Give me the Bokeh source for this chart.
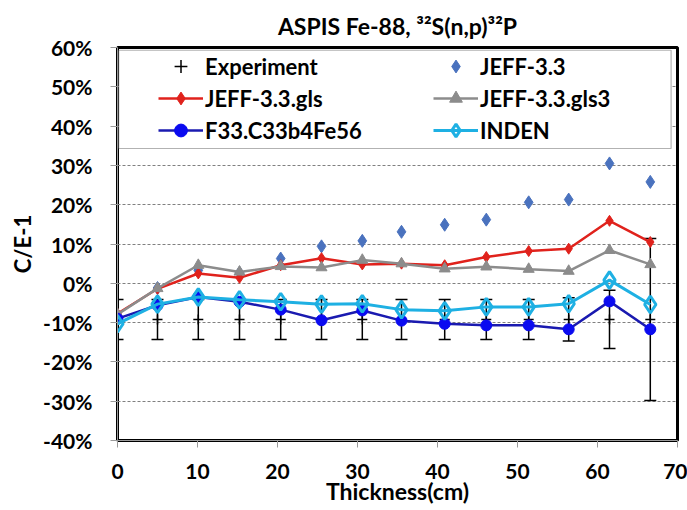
from bokeh.plotting import figure
from bokeh.models import (ColumnDataSource, Whisker, TeeHead, Legend, LegendItem,
                          FixedTicker, PrintfTickFormatter, BoxAnnotation, Range1d)
from bokeh.embed import file_html
from bokeh.resources import INLINE

# ---- data (C/E-1 in %) ----
thickness = [0.0, 5.0, 10.1, 15.25, 20.4, 25.5, 30.6, 35.5, 40.9, 46.1, 51.4, 56.4, 61.5, 66.6]
experiment = [-9.2, -9.2, -9.2, -9.2, -9.2, -9.2, -9.2, -9.2, -9.2, -9.2, -9.2, -9.2, -9.2, -9.2]
exp_err = [5.1, 5.1, 5.1, 5.1, 5.1, 5.1, 5.1, 5.1, 5.1, 5.1, 5.1, 5.5, 7.4, 20.6]
jeff33 = [-8.1, -1.2, 3.3, 2.7, 6.3, 9.4, 10.8, 13.1, 14.9, 16.2, 20.6, 21.3, 30.5, 25.8]
jeff33_gls = [-7.7, -1.4, 2.5, 1.4, 4.6, 6.4, 4.8, 5.0, 4.6, 6.7, 8.2, 8.8, 15.9, 10.5]
jeff33_gls3 = [-7.9, -1.3, 4.6, 2.9, 4.3, 4.0, 5.9, 5.0, 3.7, 4.2, 3.6, 3.1, 8.4, 4.8]
f33 = [-9.0, -5.6, -3.5, -4.7, -6.7, -9.4, -6.9, -9.5, -10.3, -10.7, -10.7, -11.7, -4.6, -11.7]
inden = [-10.3, -5.3, -3.5, -4.2, -4.7, -5.3, -5.2, -6.7, -7.0, -6.0, -6.0, -5.2, 0.8, -5.4]
x_ticks = [0, 10, 20, 30, 40, 50, 60, 70]
y_ticks = [-40, -30, -20, -10, 0, 10, 20, 30, 40, 50, 60]

title_text = "ASPIS Fe-88, \u00b3\u00b2S(n,p)\u00b3\u00b2P"
FONT = "Lato"

src = ColumnDataSource(dict(
    x=thickness, exp=experiment,
    upper=[e + d for e, d in zip(experiment, exp_err)],
    lower=[e - d for e, d in zip(experiment, exp_err)],
    jeff=jeff33, gls=jeff33_gls, gls3=jeff33_gls3, f33=f33, inden=inden,
))

p = figure(width=687, height=510, output_backend="svg", toolbar_location=None,
           x_range=Range1d(0, 70), y_range=Range1d(-40, 60),
           min_border_left=117, min_border_right=10, min_border_top=47,
           min_border_bottom=70, title=title_text)

p.title.text_font = FONT
p.title.text_font_size = "23px"
p.title.text_font_style = "bold"
p.title.align = "center"
p.title.text_color = "black"
p.title.standoff = 16
p.title.offset = 9

p.outline_line_color = "black"
p.outline_line_width = 3
p.background_fill_color = "white"
p.border_fill_color = "white"

p.xgrid.visible = False
p.ygrid.ticker = FixedTicker(ticks=y_ticks)
p.ygrid.grid_line_color = "#808080"
p.ygrid.grid_line_dash = "3 2"
p.ygrid.grid_line_width = 1

for ax in (p.xaxis, p.yaxis):
    ax.axis_line_color = "#9a9a9a"
    ax.major_tick_line_color = "#9a9a9a"
    ax.major_tick_out = 7
    ax.major_tick_in = 0
    ax.minor_tick_line_color = None
    ax.major_label_text_font = FONT
    ax.major_label_text_font_size = "21px"
    ax.major_label_text_font_style = "bold"
    ax.major_label_text_color = "black"
    ax.axis_label_text_font = FONT
    ax.axis_label_text_font_size = "22px"
    ax.axis_label_text_font_style = "bold"
    ax.axis_label_text_color = "black"

p.xaxis.axis_label_text_font_size = "23px"
p.xaxis.ticker = FixedTicker(ticks=x_ticks)
p.yaxis.ticker = FixedTicker(ticks=y_ticks)
p.yaxis.formatter = PrintfTickFormatter(format="%d%%")
p.xaxis.axis_label = "Thickness(cm)"
p.yaxis.axis_label = "C/E-1"
p.xaxis.major_label_standoff = 16
p.yaxis.major_label_standoff = 18
p.xaxis.axis_label_standoff = -5
p.yaxis.axis_label_standoff = 4

# ---- series ----
wh = Whisker(source=src, base="x", upper="upper", lower="lower",
             line_color="black", line_width=1.5,
             upper_head=TeeHead(size=12, line_color="black", line_width=1.5),
             lower_head=TeeHead(size=12, line_color="black", line_width=1.5))
p.add_layout(wh)
r_exp = p.scatter("x", "exp", source=src, marker="cross", size=10,
                  line_color="black", line_width=1.5)

r_jeff = p.scatter("x", "jeff", source=src, marker="diamond", size=13,
                   fill_color="#4A72BE", line_color="#4A72BE")

red = "#E0221C"
r_gls_l = p.line("x", "gls", source=src, line_color=red, line_width=2.5)
r_gls_m = p.scatter("x", "gls", source=src, marker="diamond", size=11,
                    fill_color=red, line_color=red)

gray = "#8C8C8C"
r_gls3_l = p.line("x", "gls3", source=src, line_color=gray, line_width=2.5)
r_gls3_m = p.scatter("x", "gls3", source=src, marker="triangle", size=11,
                     fill_color=gray, line_color=gray)

r_f33_l = p.line("x", "f33", source=src, line_color="#1A1AB0", line_width=2.5)
r_f33_m = p.scatter("x", "f33", source=src, marker="circle", size=11,
                    fill_color="#0A0AF0", line_color="#0A0AF0")

cyan = "#1EB0E3"
r_ind_l = p.line("x", "inden", source=src, line_color=cyan, line_width=3)
r_ind_m = p.scatter("x", "inden", source=src, marker="diamond", size=17,
                    fill_alpha=0, line_color=cyan, line_width=3)

# ---- legend ----
box = BoxAnnotation(left=0.15, right=69.2, top=59.3, bottom=34.3,
                    fill_color="white", fill_alpha=1.0,
                    line_color="black", line_width=1.2, level="annotation")
p.add_layout(box)

legend = Legend(items=[
    LegendItem(label="Experiment", renderers=[r_exp]),
    LegendItem(label="JEFF-3.3", renderers=[r_jeff]),
    LegendItem(label="JEFF-3.3.gls", renderers=[r_gls_l, r_gls_m]),
    LegendItem(label="JEFF-3.3.gls3", renderers=[r_gls3_l, r_gls3_m]),
    LegendItem(label="F33.C33b4Fe56", renderers=[r_f33_l, r_f33_m]),
    LegendItem(label="INDEN", renderers=[r_ind_l, r_ind_m]),
], orientation="horizontal", ncols=2, location=(41, 294),
   padding=0, margin=0, spacing=0, glyph_width=45, glyph_height=32,
   label_standoff=2, label_width=228, label_height=32,
   border_line_alpha=0, background_fill_alpha=0,
   label_text_font=FONT, label_text_font_size="22px",
   label_text_font_style="bold", label_text_color="black")
p.add_layout(legend, "center")

with open("out.html", "w") as f:
    f.write(file_html(p, INLINE))
